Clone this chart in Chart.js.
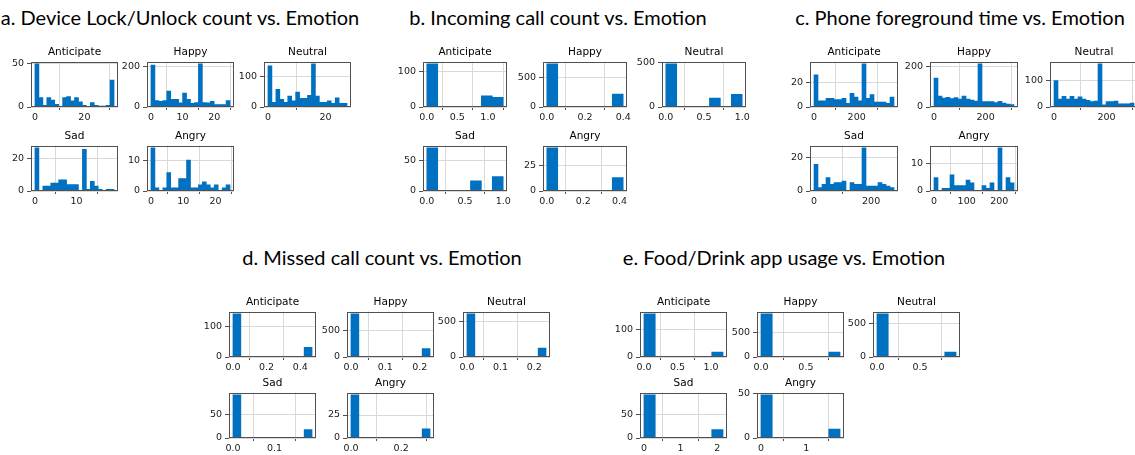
<!DOCTYPE html>
<html>
<head>
<meta charset="utf-8">
<script src="https://cdn.jsdelivr.net/npm/chart.js@4.4.1/dist/chart.umd.min.js"></script>
<style>
  body { margin: 0; background: #fff; }
  #page { position: relative; width: 1135px; height: 455px; overflow: hidden; background: #fff; }
  .ptitle { position: absolute; font-family: Lato, sans-serif; font-size: 20px; color: #000; white-space: nowrap; transform: translateX(-50%); line-height: 24px; }
  canvas { position: absolute; }
</style>
</head>
<body>
<div id="page"></div>
<script>
const emotions = ['Anticipate', 'Happy', 'Neutral', 'Sad', 'Angry'];

// a. Device Lock/Unlock count (20 bins)
const lockAnticipate = [50, 11, 2, 11, 8, 3, 0, 11, 12, 7, 11, 6, 2, 0, 5, 2, 1, 1, 2, 31];
const lockHappy = [205, 32, 28, 32, 78, 38, 38, 20, 68, 38, 18, 22, 212, 22, 20, 28, 12, 12, 12, 32];
const lockNeutral = [133, 15, 57, 25, 15, 35, 20, 48, 28, 28, 38, 140, 35, 15, 15, 20, 12, 30, 12, 12];
const lockSad = [27, 0, 3, 3, 5, 5, 7, 7, 4, 4, 4, 0, 26, 1, 6, 3, 1, 0, 1, 1];
const lockAngry = [14, 1, 0, 1, 6, 1, 1, 4, 4, 10, 1, 1, 2, 3, 2, 1, 2, 0, 1, 2];
const lockRanges = [[0, 32], [0, 25], [0, 27.5], [0, 19], [0, 24.5]];
const lockXTicks = [['0', '20'], ['0', '10', '20'], ['0', '20'], ['0', '10'], ['0', '10', '20']];
const lockYTicks = [[0, 50], [0, 200], [0, 100], [0, 20], [0, 10]];

// b. Incoming call count (7 bins)
const callAnticipate = [121, 0, 0, 0, 0, 31, 27];
const callHappy = [740, 0, 0, 0, 0, 0, 220];
const callNeutral = [490, 0, 0, 0, 100, 0, 145];
const callSad = [72, 0, 0, 0, 17, 0, 24];
const callAngry = [42, 0, 0, 0, 0, 0, 13];
const callRanges = [[0, 1.25], [0, 0.4], [0, 1.0], [0, 1.0], [0, 0.42]];
const callXTicks = [['0.0', '0.5', '1.0'], ['0.0', '0.2', '0.4'], ['0.0', '0.5', '1.0'], ['0.0', '0.5', '1.0'], ['0.0', '0.2', '0.4']];
const callYTicks = [[0, 100], [0, 500], [0, 500], [0, 50], [0, 25]];

// c. Phone foreground time (20 bins)
const fgAnticipate = [26, 5, 5, 7, 7, 6, 6, 7, 3, 11, 8, 5, 35, 7, 10, 4, 4, 4, 3, 8];
const fgHappy = [145, 55, 45, 48, 42, 47, 40, 55, 40, 35, 30, 216, 27, 27, 27, 22, 28, 20, 15, 12];
const fgNeutral = [100, 30, 40, 30, 40, 30, 38, 30, 25, 20, 22, 163, 8, 20, 20, 22, 12, 12, 12, 15];
const fgSad = [16, 2, 4, 8, 4, 5, 5, 6, 0, 5, 4, 4, 26, 3, 3, 3, 5, 4, 3, 2];
const fgAngry = [5, 0, 1, 1, 6, 2, 2, 2, 4, 3, 0, 0, 2, 1, 3, 0, 16, 0, 5, 3];
const fgRanges = [[0, 375], [0, 310], [0, 305], [0, 280], [0, 245]];
const fgXTicks = [['0', '200'], ['0', '200'], ['0', '200'], ['0', '200'], ['0', '100', '200']];
const fgYTicks = [[0, 20], [0, 200], [0, 100], [0, 20], [0, 10]];

// d. Missed call count (10 bins)
const missAnticipate = [144, 0, 0, 0, 0, 0, 0, 0, 0, 32];
const missHappy = [812, 0, 0, 0, 0, 0, 0, 0, 0, 158];
const missNeutral = [607, 0, 0, 0, 0, 0, 0, 0, 0, 125];
const missSad = [93, 0, 0, 0, 0, 0, 0, 0, 0, 18];
const missAngry = [47, 0, 0, 0, 0, 0, 0, 0, 0, 10];
const missRanges = [[0, 0.47], [0, 0.23], [0, 0.235], [0, 0.19], [0, 0.315]];
const missXTicks = [['0.0', '0.2', '0.4'], ['0.0', '0.1', '0.2'], ['0.0', '0.1', '0.2'], ['0.0', '0.1'], ['0.0', '0.2']];
const missYTicks = [[0, 100], [0, 500], [0, 500], [0, 50], [0, 25]];

// e. Food/Drink app usage (7 bins)
const foodAnticipate = [158, 0, 0, 0, 0, 0, 18];
const foodHappy = [880, 0, 0, 0, 0, 0, 100];
const foodNeutral = [650, 0, 0, 0, 0, 0, 75];
const foodSad = [93, 0, 0, 0, 0, 0, 18];
const foodAngry = [49, 0, 0, 0, 0, 0, 10];
const foodRanges = [[0, 1.18], [0, 0.88], [0, 0.92], [0, 2.16], [0, 1.75]];
const foodXTicks = [['0.0', '0.5', '1.0'], ['0.0', '0.5'], ['0.0', '0.5'], ['0', '1', '2'], ['0', '1']];
const foodYTicks = [[0, 100], [0, 500], [0, 500], [0, 50], [0, 50]];

const BAR = '#0070c0';
const EDGE = '#505050';
const GRID = '#d9d9d9';
const TICKFONT = { family: 'DejaVu Sans', size: 9.5 };
const YW = 30, TH = 15.6, XH = 16, RP = 12;

const panels = [
    { title: 'a. Device Lock/Unlock count vs. Emotion', tx: 180, ty: 5, lefts: [31, 147, 264], tops: [62, 146], w: 87, h: 45,
      counts: [lockAnticipate, lockHappy, lockNeutral, lockSad, lockAngry], ranges: lockRanges, xTicks: lockXTicks, yTicks: lockYTicks },
    { title: 'b. Incoming call count vs. Emotion', tx: 558, ty: 5, lefts: [423, 543, 662], tops: [62, 146], w: 84, h: 45,
      counts: [callAnticipate, callHappy, callNeutral, callSad, callAngry], ranges: callRanges, xTicks: callXTicks, yTicks: callYTicks },
    { title: 'c. Phone foreground time vs. Emotion', tx: 960, ty: 5, lefts: [810, 930, 1050], tops: [62, 146], w: 88, h: 45,
      counts: [fgAnticipate, fgHappy, fgNeutral, fgSad, fgAngry], ranges: fgRanges, xTicks: fgXTicks, yTicks: fgYTicks },
    { title: 'd. Missed call count vs. Emotion', tx: 382, ty: 245, lefts: [229, 347, 463], tops: [312, 393], w: 87, h: 45,
      counts: [missAnticipate, missHappy, missNeutral, missSad, missAngry], ranges: missRanges, xTicks: missXTicks, yTicks: missYTicks },
    { title: 'e. Food/Drink app usage vs. Emotion', tx: 784, ty: 245, lefts: [640, 757, 873], tops: [312, 393], w: 87, h: 45,
      counts: [foodAnticipate, foodHappy, foodNeutral, foodSad, foodAngry], ranges: foodRanges, xTicks: foodXTicks, yTicks: foodYTicks }
];

const page = document.getElementById('page');

// box round each small plot, like matplotlib spines
const frame = {
    id: 'frame',
    afterDatasetsDraw(chart) {
        const { ctx, chartArea: a } = chart;
        ctx.save();
        ctx.strokeStyle = EDGE;
        ctx.lineWidth = 1;
        ctx.strokeRect(Math.round(a.left) + 0.5, Math.round(a.top) + 0.5, Math.round(a.width) - 1, Math.round(a.height) - 1);
        ctx.restore();
    }
};

function drawHist(panel, k) {
    const col = k % 3;
    const row = Math.floor(k / 3);
    const counts = panel.counts[k];
    const [lo, hi] = panel.ranges[k];
    const binW = (hi - lo) / counts.length;
    const pad = (hi - lo) * 0.05;
    const xLabels = panel.xTicks[k];
    const yLabels = panel.yTicks[k];

    const canvas = document.createElement('canvas');
    canvas.width = YW + panel.w + RP;
    canvas.height = Math.round(TH + panel.h + XH);
    canvas.style.left = (panel.lefts[col] - YW) + 'px';
    canvas.style.top = Math.round(panel.tops[row] - TH) + 'px';
    page.appendChild(canvas);

    new Chart(canvas, {
        type: 'bar',
        data: {
            datasets: [{
                data: counts.map((c, i) => ({ x: lo + (i + 0.5) * binW, y: c })),
                backgroundColor: BAR,
                borderWidth: 0,
                barPercentage: 1,
                categoryPercentage: 1
            }]
        },
        options: {
            responsive: false,
            animation: false,
            layout: { padding: { left: 0, right: RP, top: 0, bottom: 0 } },
            plugins: {
                legend: { display: false },
                tooltip: { enabled: false },
                title: {
                    display: true,
                    text: emotions[k],
                    fullSize: false,
                    font: { family: 'DejaVu Sans', size: 10.5, weight: 'normal' },
                    color: '#000',
                    padding: { top: 0, bottom: 3 }
                }
            },
            scales: {
                x: {
                    type: 'linear',
                    offset: false,
                    min: lo - pad,
                    max: hi + pad,
                    afterBuildTicks: s => { s.ticks = xLabels.map(t => ({ value: parseFloat(t) })); },
                    afterFit: s => { s.height = XH; s.paddingLeft = 0; s.paddingRight = 0; },
                    ticks: {
                        autoSkip: false, maxRotation: 0, padding: 2,
                        font: TICKFONT, color: '#1a1a1a',
                        callback: (v, i) => xLabels[i]
                    },
                    grid: { color: GRID, tickColor: EDGE, tickLength: 3 },
                    border: { display: false }
                },
                y: {
                    min: 0,
                    max: Math.max(...counts) * 1.05,
                    afterBuildTicks: s => { s.ticks = yLabels.map(v => ({ value: v })); },
                    afterFit: s => { s.width = YW; s.paddingTop = 0; s.paddingBottom = 0; },
                    ticks: {
                        autoSkip: false, padding: 3,
                        font: TICKFONT, color: '#1a1a1a',
                        callback: (v, i) => String(yLabels[i])
                    },
                    grid: { color: GRID, tickColor: EDGE, tickLength: 4 },
                    border: { display: false }
                }
            }
        },
        plugins: [frame]
    });
}

panels.forEach(panel => {
    const t = document.createElement('div');
    t.className = 'ptitle';
    t.textContent = panel.title;
    t.style.left = panel.tx + 'px';
    t.style.top = panel.ty + 'px';
    page.appendChild(t);
    for (let k = 0; k < emotions.length; k++) {
        drawHist(panel, k);
    }
});
</script>
</body>
</html>
